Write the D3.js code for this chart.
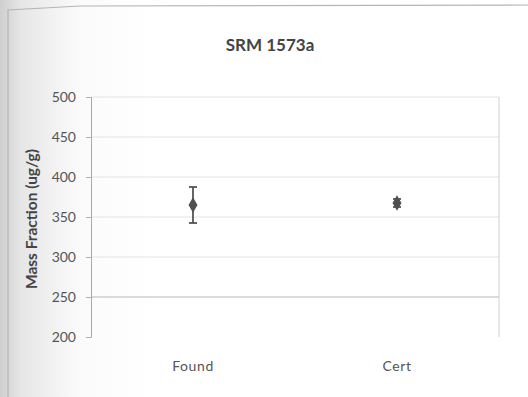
<!DOCTYPE html>
<html>
<head>
<meta charset="utf-8">
<script src="https://cdn.jsdelivr.net/npm/d3@7"></script>
<style>
  html, body { margin: 0; padding: 0; background: #fff; }
  svg { display: block; }
</style>
</head>
<body>
<svg id="chart" width="528" height="397"></svg>
<script>
// Measured mass fraction vs certified value
const categories = ["Found", "Cert"];
const values = [365, 367.5];
const uncertainties = [22.5, 5];
const yTicks = [200, 250, 300, 350, 400, 450, 500];

const W = 528, H = 397;
const margin = { left: 91, right: 29, top: 97, bottom: 60 };
const FONT = "Lato, 'Open Sans', sans-serif";
const svg = d3.select("#chart");

// page shading toward the left edge
const defs = svg.append("defs");
const grad = defs.append("linearGradient").attr("id", "shade").attr("x1", 0).attr("x2", 1).attr("y1", 0).attr("y2", 0);
grad.append("stop").attr("offset", 0).attr("stop-color", "#cfcfcf");
grad.append("stop").attr("offset", 0.04).attr("stop-color", "#e6e6e6");
grad.append("stop").attr("offset", 0.15).attr("stop-color", "#fbfbfb");
grad.append("stop").attr("offset", 0.3).attr("stop-color", "#ffffff");
svg.append("rect").attr("width", W).attr("height", H).attr("fill", "url(#shade)");

// chart frame
svg.append("path")
  .attr("d", `M8,${H} L8,10 L80,6 L${W},5`)
  .attr("fill", "none").attr("stroke", "#b5b5b5").attr("stroke-width", 1.2);

const x = d3.scaleBand().domain(categories).range([margin.left, W - margin.right]);
const y = d3.scaleLinear().domain([200, 500]).range([H - margin.bottom, margin.top]);

// gridlines
svg.append("g").selectAll("line").data(yTicks.filter(t => t !== 200)).join("line")
  .attr("x1", margin.left).attr("x2", W - margin.right)
  .attr("y1", d => y(d)).attr("y2", d => y(d))
  .attr("stroke", d => d === 250 ? "#b8b8b8" : "#e3e3e3").attr("stroke-width", 1.2);

// plot frame on right
svg.append("line")
  .attr("x1", W - margin.right).attr("x2", W - margin.right)
  .attr("y1", margin.top).attr("y2", H - margin.bottom)
  .attr("stroke", "#d0d0d0").attr("stroke-width", 1);

// y axis
const yAxis = svg.append("g").attr("transform", `translate(${margin.left},0)`)
  .call(d3.axisLeft(y).tickValues(yTicks).tickSize(5).tickPadding(10));
yAxis.select(".domain").attr("stroke", "#a8a8a8");
yAxis.selectAll(".tick line").attr("stroke", "#b0b0b0");
yAxis.selectAll(".tick text")
  .attr("fill", "#555").style("font-family", FONT).style("font-size", "14px");

// x axis labels
svg.append("g").selectAll("text").data(categories).join("text")
  .attr("x", d => x(d) + x.bandwidth() / 2).attr("y", 371)
  .attr("text-anchor", "middle").attr("fill", "#555")
  .style("font-family", FONT).style("font-size", "14px")
  .style("letter-spacing", "0.6px")
  .text(d => d);

// title
svg.append("text").attr("x", 270).attr("y", 51).attr("text-anchor", "middle")
  .attr("fill", "#444").style("font-family", FONT)
  .style("font-size", "17px").style("font-weight", "bold").text("SRM 1573a");

// y axis title
svg.append("text").attr("transform", "translate(37,219) rotate(-90)")
  .attr("text-anchor", "middle").attr("fill", "#444")
  .style("font-family", FONT)
  .style("font-size", "15.5px").style("font-weight", "bold")
  .text("Mass Fraction (ug/g)");

// error bars and markers
const pts = categories.map((c, i) => ({ c, v: values[i], e: uncertainties[i] }));
const g = svg.append("g");
const cx = d => x(d.c) + x.bandwidth() / 2;
g.selectAll("line.err").data(pts).join("line").attr("class", "err")
  .attr("x1", cx).attr("x2", cx)
  .attr("y1", d => y(d.v - d.e)).attr("y2", d => y(d.v + d.e))
  .attr("stroke", "#555").attr("stroke-width", 1.8);
pts.forEach(d => {
  [d.v - d.e, d.v + d.e].forEach(v => {
    g.append("line")
      .attr("x1", cx(d) - 4).attr("x2", cx(d) + 4)
      .attr("y1", y(v)).attr("y2", y(v))
      .attr("stroke", "#555").attr("stroke-width", 1.8);
  });
});
g.selectAll("path.mk").data(pts).join("path").attr("class", "mk")
  .attr("d", d3.symbol().type(d3.symbolDiamond).size(70))
  .attr("transform", d => `translate(${cx(d)},${y(d.v)})`)
  .attr("fill", "#505050");
</script>
</body>
</html>
